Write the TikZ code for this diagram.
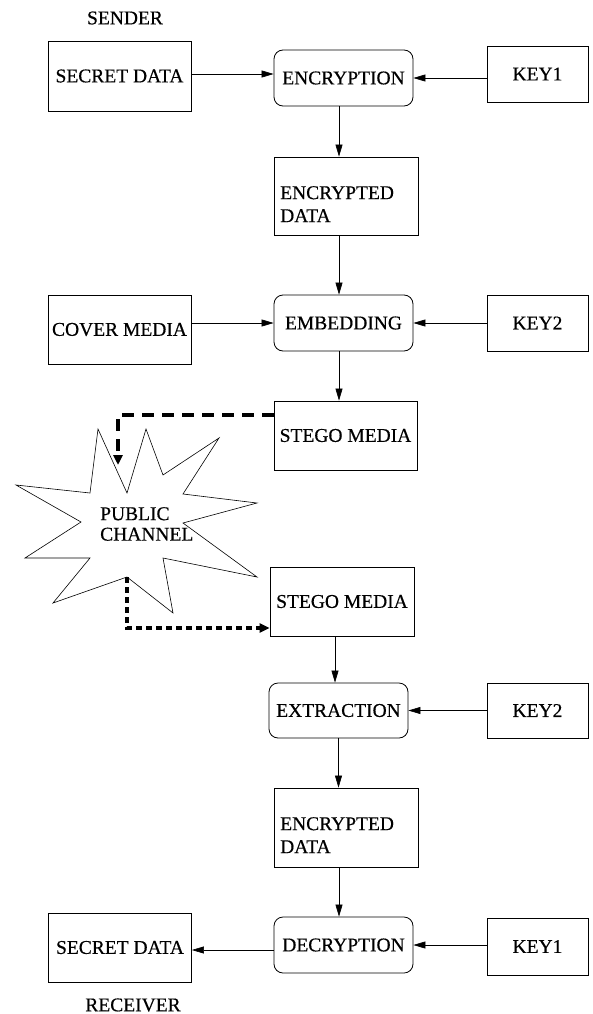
\documentclass[tikz,border=0pt]{standalone}
\usepackage{fontspec}
\setmainfont{Liberation Serif}[FakeBold=0.45]
\usetikzlibrary{arrows.meta}
\newcommand{\boxfont}{\fontsize{19.5}{23}\selectfont}
\begin{document}
\begin{tikzpicture}[x=1pt,y=-1pt,
  box/.style={draw, line width=0.8pt, rectangle, inner sep=0pt, font=\boxfont},
  proc/.style={box, rounded corners=9pt, minimum width=139pt, minimum height=56pt},
  keybox/.style={box, minimum width=101pt, minimum height=56pt},
  wide/.style={box, minimum width=143pt, minimum height=69pt},
  txt/.style={inner sep=0pt, font=\boxfont, align=left},
  arr/.style={line width=0.6pt, -{Triangle[length=12pt,width=7pt]}},
  chanA/.style={line width=3.4pt, dash pattern=on 12pt off 8pt, -{Triangle[length=10pt,width=9pt]}},
  chanB/.style={line width=3.4pt, dash pattern=on 6pt off 4pt, -{Triangle[length=10pt,width=9pt]}},
  star/.style={draw, line width=0.6pt, line join=miter}
]
\useasboundingbox (0,0) rectangle (592,1014);

% ---------- sender side ----------
\node[txt] (sender) at (125,18) {SENDER};
\node[wide, minimum height=70pt] (sd1) at (119.5,76) {SECRET DATA};
\node[proc] (enc) at (343.5,78) {ENCRYPTION};
\node[keybox] (key1) at (537.5,74) {KEY1};
\node[box, minimum width=144pt, minimum height=78pt] (ed1) at (346,196) {};
\node[txt, anchor=north west, font=\fontsize{19.5}{23}\selectfont] (ed1t) at (280,186) {ENCRYPTED\\DATA};
\node[wide] (cm) at (119.5,329.5) {COVER MEDIA};
\node[proc] (emb) at (343.5,323) {EMBEDDING};
\node[keybox] (key2) at (537.5,323) {KEY2};
\node[wide] (sm1) at (345.5,435.5) {STEGO MEDIA};

% ---------- public channel ----------
\draw[star] (16,485) -- (90,493) -- (98,429) -- (127,493) -- (146,429)
  -- (163,475) -- (219,438) -- (183,494) -- (257,503) -- (183,523)
  -- (257,577) -- (163,558) -- (173,613) -- (127,577) -- (53,603)
  -- (90,558) -- (25,558) -- (81,522) -- cycle;
\node[txt, anchor=north west, font=\fontsize{19.5}{20.5}\selectfont] (pub) at (100,507) {PUBLIC\\CHANNEL};
\coordinate (pubin) at (118,465);
\coordinate (pubout) at (127,577);

% ---------- receiver side ----------
\node[wide, minimum width=144pt] (sm2) at (342,601.5) {STEGO MEDIA};
\node[proc, minimum height=55pt] (ext) at (338.5,710.5) {EXTRACTION};
\node[keybox, minimum height=55pt] (key2b) at (537.5,710.5) {KEY2};
\node[box, minimum width=144pt, minimum height=79pt] (ed2) at (346,827.5) {};
\node[txt, anchor=north west, font=\fontsize{19.5}{23}\selectfont] (ed2t) at (280,817) {ENCRYPTED\\DATA};
\node[proc] (dec) at (343.5,945) {DECRYPTION};
\node[keybox, minimum height=57pt] (key1b) at (537.5,946.5) {KEY1};
\node[wide] (sd2) at (120,947.5) {SECRET DATA};
\node[txt] (receiver) at (133,1005) {RECEIVER};

% ---------- connectors ----------
\draw[arr] ([yshift=2pt]sd1.east) -- ([yshift=2pt]sd1.east -| enc.west);
\draw[arr] (key1.west |- enc.east) -- (enc.east);
\draw[arr] ([xshift=-4.5pt]enc.south) -- ([xshift=-4.5pt]enc.south |- ed1.north);
\draw[arr] ([xshift=-7pt]ed1.south) -- ([xshift=-7pt]ed1.south |- emb.north);
\draw[arr] (cm.east |- emb.west) -- (emb.west);
\draw[arr] (key2.west) -- (key2.west -| emb.east);
\draw[arr] ([xshift=-4.5pt]emb.south) -- ([xshift=-4.5pt]emb.south |- sm1.north);
\draw[chanA] ([yshift=20.5pt]sm1.west) -| (pubin);
\draw[chanB] (pubout) |- ([yshift=-26.5pt]sm2.west);
\draw[arr] ([xshift=-7pt]sm2.south) -- ([xshift=-7pt]sm2.south |- ext.north);
\draw[arr] (key2b.west) -- (key2b.west -| ext.east);
\draw[arr] (ext.south) -- (ext.south |- ed2.north);
\draw[arr] ([xshift=-7pt]ed2.south) -- ([xshift=-7pt]ed2.south |- dec.north);
\draw[arr] (key1b.west |- dec.east) -- (dec.east);
\draw[arr] ([yshift=-5pt]dec.west) -- ([yshift=-5pt]dec.west -| sd2.east);
\end{tikzpicture}
\end{document}
